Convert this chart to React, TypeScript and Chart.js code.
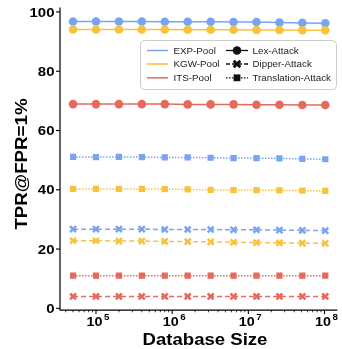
import React, { useEffect, useRef } from 'react';
import { Chart, registerables } from 'chart.js';
Chart.register(...registerables);

const databaseSizes = [5e4, 1e5, 2e5, 4e5, 8e5, 1.6e6, 3.2e6, 6.4e6, 1.28e7, 2.56e7, 5.12e7, 1.024e8];
const expLex = [96.8, 96.8, 96.8, 96.8, 96.7, 96.7, 96.7, 96.6, 96.6, 96.4, 96.3, 96.2];
const kgwLex = [94.1, 94.1, 94.1, 94.1, 94.1, 94.0, 94.0, 94.0, 93.9, 93.9, 93.8, 93.8];
const itsLex = [68.9, 68.9, 68.9, 68.9, 68.9, 68.8, 68.8, 68.8, 68.7, 68.7, 68.6, 68.6];
const expTranslation = [51.1, 51.0, 51.1, 51.0, 50.9, 50.9, 50.8, 50.7, 50.7, 50.6, 50.4, 50.3];
const kgwTranslation = [40.3, 40.3, 40.3, 40.3, 40.2, 40.1, 40.0, 39.9, 39.9, 39.8, 39.7, 39.6];
const itsTranslation = [11.0, 11.0, 11.0, 11.0, 11.0, 11.0, 11.0, 11.0, 11.0, 11.0, 11.0, 11.0];
const expDipper = [26.7, 26.7, 26.7, 26.7, 26.6, 26.6, 26.6, 26.5, 26.5, 26.4, 26.3, 26.2];
const kgwDipper = [22.8, 22.8, 22.7, 22.7, 22.6, 22.5, 22.4, 22.3, 22.2, 22.1, 22.0, 21.9];
const itsDipper = [4.0, 4.0, 4.0, 4.0, 4.0, 4.0, 4.0, 4.0, 4.0, 4.0, 4.0, 4.0];

const yTicks = [0, 20, 40, 60, 80, 100];
const xMajorExponents = [5, 6, 7, 8];
const poolLabels = ['EXP-Pool', 'KGW-Pool', 'ITS-Pool'];
const attackLabels = ['Lex-Attack', 'Dipper-Attack', 'Translation-Attack'];
const xTitle = 'Database Size';
const yTitle = 'TPR@FPR=1%';

const BLUE = '#78a4f2';
const YELLOW = '#f8c33c';
const RED = '#e7695d';
const poolColors = [BLUE, YELLOW, RED];

const FONT = "'Liberation Sans', Arial, sans-serif";

function pts(vals: number[]) {
  return vals.map((v, i) => ({ x: databaseSizes[i], y: v }));
}

function lexDs(label: string, vals: number[], color: string) {
  return {
    label, data: pts(vals), borderColor: color, backgroundColor: color,
    borderWidth: 1.5, pointStyle: 'circle', pointRadius: 4.3, pointBorderWidth: 0,
    pointBackgroundColor: color, pointBorderColor: color,
  };
}
function dipDs(label: string, vals: number[], color: string) {
  return {
    label, data: pts(vals), borderColor: color, backgroundColor: color,
    borderWidth: 1.5, borderDash: [5, 3], pointStyle: 'crossRot', pointRadius: 4.2,
    pointBorderWidth: 2.5, pointBackgroundColor: color, pointBorderColor: color,
  };
}
function trDs(label: string, vals: number[], color: string) {
  return {
    label, data: pts(vals), borderColor: color, backgroundColor: color,
    borderWidth: 1.5, borderDash: [1.5, 1.5], pointStyle: 'rect', pointRadius: 4.4,
    pointBorderWidth: 0, pointBackgroundColor: color, pointBorderColor: color,
  };
}

function sText(ctx: CanvasRenderingContext2D, text: string, x: number, y: number, sx: number, align: CanvasTextAlign) {
  ctx.save();
  ctx.translate(x, y);
  ctx.scale(sx, 1);
  ctx.textAlign = align;
  ctx.textBaseline = 'alphabetic';
  ctx.fillText(text, 0, 0);
  ctx.restore();
}

const decorPlugin = {
  id: 'decor',
  afterDraw(chart: any) {
    const ctx: CanvasRenderingContext2D = chart.ctx;
    const xs = chart.scales.x;
    const ys = chart.scales.y;
    const ca = chart.chartArea;
    ctx.save();
    ctx.strokeStyle = '#000';
    ctx.fillStyle = '#000';
    // spines
    ctx.lineWidth = 1.2;
    ctx.beginPath();
    ctx.moveTo(ca.left, ca.top);
    ctx.lineTo(ca.left, ca.bottom);
    ctx.lineTo(ca.right + 2, ca.bottom);
    ctx.stroke();
    // y ticks
    ctx.font = `bold 13px ${FONT}`;
    for (const t of yTicks) {
      const py = ys.getPixelForValue(t);
      ctx.lineWidth = 1.1;
      ctx.beginPath();
      ctx.moveTo(ca.left - 4, py);
      ctx.lineTo(ca.left, py);
      ctx.stroke();
      sText(ctx, String(t), 54.5, py + 4.7, 1.15, 'right');
    }
    // x ticks
    const lo = xs.min, hi = xs.max;
    for (let e = 4; e <= 8; e++) {
      for (let m = 1; m <= 9; m++) {
        const v = m * Math.pow(10, e);
        if (v < lo || v > hi) continue;
        const px = xs.getPixelForValue(v);
        const major = m === 1;
        ctx.lineWidth = major ? 1.1 : 0.8;
        ctx.beginPath();
        ctx.moveTo(px, ca.bottom);
        ctx.lineTo(px, ca.bottom + (major ? 4 : 2.2));
        ctx.stroke();
      }
    }
    for (const e of xMajorExponents) {
      const px = xs.getPixelForValue(Math.pow(10, e));
      ctx.font = `bold 12.5px ${FONT}`;
      const w1 = ctx.measureText('10').width * 1.15;
      const start = px - 9.5;
      sText(ctx, '10', start, 325.5, 1.15, 'left');
      ctx.font = `bold 8.5px ${FONT}`;
      sText(ctx, String(e), start + w1 + 1.5, 320, 1.15, 'left');
    }
    // axis titles
    ctx.font = `bold 16.3px ${FONT}`;
    sText(ctx, xTitle, 205, 345, 1.14, 'center');
    ctx.save();
    ctx.translate(26.7, 164);
    ctx.rotate(-Math.PI / 2);
    ctx.scale(1.15, 1);
    ctx.textAlign = 'center';
    ctx.textBaseline = 'alphabetic';
    ctx.fillText(yTitle, 0, 0);
    ctx.restore();

    // legend
    const bx = 140.5, by = 40.5, bw = 196, bh = 49;
    ctx.beginPath();
    ctx.roundRect(bx, by, bw, bh, 4);
    ctx.fillStyle = 'rgba(255,255,255,0.85)';
    ctx.fill();
    ctx.strokeStyle = '#cccccc';
    ctx.lineWidth = 1;
    ctx.stroke();
    const rows = [50.5, 64, 77.8];
    ctx.font = `9.5px ${FONT}`;
    for (let i = 0; i < 3; i++) {
      const ry = rows[i];
      ctx.strokeStyle = poolColors[i];
      ctx.lineWidth = 1.5;
      ctx.setLineDash([]);
      ctx.beginPath();
      ctx.moveTo(147, ry);
      ctx.lineTo(168, ry);
      ctx.stroke();
      ctx.fillStyle = '#222';
      ctx.textBaseline = 'alphabetic';
      sText(ctx, poolLabels[i], 173.5, ry + 3.4, 1.03, 'left');

      ctx.strokeStyle = '#111';
      ctx.fillStyle = '#111';
      ctx.lineWidth = 1.3;
      ctx.setLineDash(i === 0 ? [] : i === 1 ? [4, 2] : [1.5, 1.5]);
      ctx.beginPath();
      ctx.moveTo(226, ry);
      ctx.lineTo(248, ry);
      ctx.stroke();
      ctx.setLineDash([]);
      const cx = 237;
      if (i === 0) {
        ctx.beginPath();
        ctx.arc(cx, ry, 4.3, 0, Math.PI * 2);
        ctx.fill();
      } else if (i === 1) {
        ctx.lineWidth = 2.8;
        ctx.beginPath();
        ctx.moveTo(cx - 3.3, ry - 3.3);
        ctx.lineTo(cx + 3.3, ry + 3.3);
        ctx.moveTo(cx + 3.3, ry - 3.3);
        ctx.lineTo(cx - 3.3, ry + 3.3);
        ctx.stroke();
      } else {
        ctx.fillRect(cx - 3.4, ry - 3.4, 6.8, 6.8);
      }
      ctx.fillStyle = '#222';
      sText(ctx, attackLabels[i], 252.5, ry + 3.4, 1.03, 'left');
    }
    ctx.restore();
  },
};

export default function App() {
  const ref = useRef<HTMLCanvasElement>(null);
  useEffect(() => {
    const chart = new Chart(ref.current!, {
      type: 'line',
      data: {
        datasets: [
          trDs('ITS-Translation', itsTranslation, RED),
          dipDs('ITS-Dipper', itsDipper, RED),
          lexDs('ITS-Lex', itsLex, RED),
          trDs('KGW-Translation', kgwTranslation, YELLOW),
          dipDs('KGW-Dipper', kgwDipper, YELLOW),
          lexDs('KGW-Lex', kgwLex, YELLOW),
          trDs('EXP-Translation', expTranslation, BLUE),
          dipDs('EXP-Dipper', expDipper, BLUE),
          lexDs('EXP-Lex', expLex, BLUE),
        ] as any,
      },
      options: {
        animation: false,
        responsive: false,
        layout: { padding: { top: 7.5, right: 1, left: 0, bottom: 0 } },
        plugins: { legend: { display: false }, tooltip: { enabled: false } },
        scales: {
          x: {
            type: 'logarithmic',
            min: 33700,
            max: 1.386e8,
            grid: { display: false },
            border: { display: false },
            ticks: { display: false },
            afterFit: (s: any) => { s.height = 38.9; },
          },
          y: {
            min: -0.6,
            max: 101.5,
            grid: { display: false },
            border: { display: false },
            ticks: { display: false, stepSize: 20 },
            afterFit: (s: any) => { s.width = 60; },
          },
        },
      } as any,
      plugins: [decorPlugin],
    });
    return () => chart.destroy();
  }, []);
  return (
    <div style={{ position: 'fixed', left: 0, top: 0, width: 342, height: 349, background: '#fff' }}>
      <canvas ref={ref} width={342} height={349} style={{ width: 342, height: 349, display: 'block' }} />
    </div>
  );
}
